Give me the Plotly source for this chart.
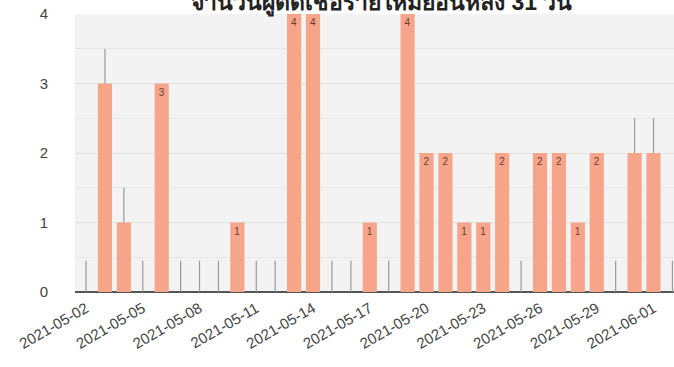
import plotly.graph_objects as go
import pandas as pd

title_text = "จำนวนผู้ติดเชื้อรายใหม่ย้อนหลัง 31 วัน"
dates = pd.date_range("2021-05-02", "2021-06-02", freq="D").strftime("%Y-%m-%d").tolist()
values = [0, 3, 1, 0, 3, 0, 0, 0, 1, 0, 0, 4, 4, 0, 0, 1,
          0, 4, 2, 2, 1, 1, 2, 0, 2, 2, 1, 2, 0, 2, 2, 0]
upper_marks = [0.45, 0.5, 0.5, 0.45, 0, 0.45, 0.45, 0.45, 0, 0.45, 0.45, 0, 0, 0.45, 0.45, 0,
               0.45, 0, 0, 0, 0, 0, 0, 0.45, 0, 0, 0, 0, 0.45, 0.5, 0.5, 0.45]
tick_dates = dates[::3]

labels = [str(v) if e == 0 else "" for v, e in zip(values, upper_marks)]

fig = go.Figure()
fig.add_trace(go.Bar(
    x=dates, y=values,
    marker=dict(color="#F6A58B", line=dict(width=0)),
    text=labels, textposition="inside", insidetextanchor="end",
    textangle=0,
    textfont=dict(size=10, color="#6e3a32", family="Liberation Sans"),
    error_y=dict(type="data", symmetric=False, array=upper_marks,
                 arrayminus=[0] * len(values), color="#9a9a9a",
                 thickness=1.2, width=0),
    hoverinfo="x+y",
))

fig.add_annotation(
    text="<b>" + title_text + "</b>", xref="paper", yref="paper",
    x=0.511, y=1, xanchor="center", yanchor="middle", yshift=13,
    showarrow=False, font=dict(size=23, color="#222"),
)

fig.update_layout(
    width=674, height=367,
    margin=dict(l=75, r=0, t=14, b=75, autoexpand=False),
    paper_bgcolor="white", plot_bgcolor="#f3f3f3",
    bargap=0.25, showlegend=False,
    font=dict(family="Liberation Sans", color="#444"),
)
fig.update_xaxes(
    type="date", automargin=False,
    range=["2021-05-01 10:00", "2021-06-02 02:00"],
    tickvals=tick_dates, ticktext=tick_dates, tickangle=-30,
    tickfont=dict(size=15, color="#444"), ticklabelstandoff=4,
    showgrid=False, zeroline=False, ticks="", showline=False,
)
fig.update_yaxes(
    range=[0, 4], dtick=1, tickfont=dict(size=15, color="#444"),
    automargin=False,
    showgrid=True, gridcolor="#e2e2e2", gridwidth=1,
    minor=dict(dtick=0.5, showgrid=True, gridcolor="#e6e6e6"),
    zeroline=True, zerolinecolor="#555", zerolinewidth=2,
    ticks="", ticklabelstandoff=26,
)
fig.write_html(
    "out.html",
    config={"displayModeBar": False},
    post_script="document.body.style.margin='0';document.body.style.overflow='hidden';",
)
